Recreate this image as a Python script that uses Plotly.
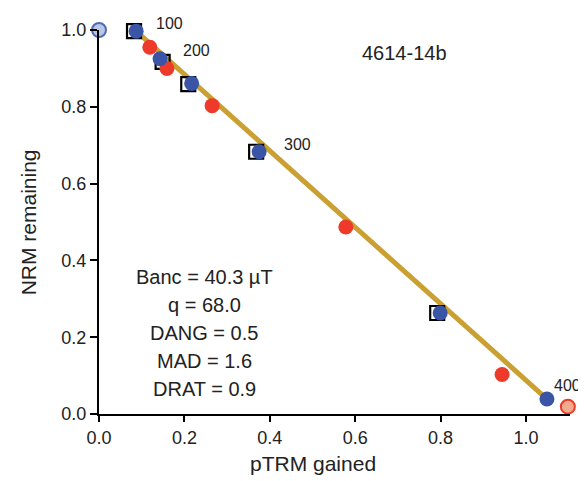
import plotly.graph_objects as go

# --- data ---
open_blue_x = [0.0]
open_blue_y = [1.0]
blue_x = [0.087, 0.143, 0.217, 0.375, 0.799, 1.049]
blue_y = [0.997, 0.925, 0.861, 0.683, 0.263, 0.039]
red_x = [0.119, 0.159, 0.265, 0.578, 0.944]
red_y = [0.955, 0.900, 0.803, 0.487, 0.103]
open_red_x = [1.098]
open_red_y = [0.019]
check_x = [0.082, 0.149, 0.209, 0.368, 0.792]
check_y = [0.997, 0.917, 0.859, 0.683, 0.263]
fit_x = [0.087, 1.049]
fit_y = [0.997, 0.039]
step_labels = ["100", "200", "300", "400"]
step_label_x = [0.166, 0.229, 0.466, 1.062]
step_label_y = [1.016, 0.947, 0.703, 0.073]
sample_name = "4614-14b"
stats_lines = ["Banc = 40.3 µT", "q = 68.0", "DANG = 0.5", "MAD = 1.6", "DRAT = 0.9"]
stats_y = [0.357, 0.285, 0.212, 0.139, 0.066]
tick_vals = [0.0, 0.2, 0.4, 0.6, 0.8, 1.0]
tick_text = ["0.0", "0.2", "0.4", "0.6", "0.8", "1.0"]
x_title = "pTRM gained"
y_title = "NRM remaining"

BLUE = "#3A55A6"
RED = "#EE3A2A"
GOLD = "#C9A031"
TXT = "#222222"
FONT = "Liberation Sans, Arial, sans-serif"

fig = go.Figure()
fig.add_trace(go.Scatter(x=fit_x, y=fit_y, mode="lines",
                         line=dict(color=GOLD, width=5), cliponaxis=False, hoverinfo="skip"))
fig.add_trace(go.Scatter(x=check_x, y=check_y, mode="markers", cliponaxis=False,
                         marker=dict(symbol="square-open", size=14, color="black",
                                     line=dict(width=2.2, color="black"))))
fig.add_trace(go.Scatter(x=red_x, y=red_y, mode="markers", cliponaxis=False,
                         marker=dict(symbol="circle", size=15, color=RED,
                                     line=dict(width=0))))
fig.add_trace(go.Scatter(x=blue_x, y=blue_y, mode="markers", cliponaxis=False,
                         marker=dict(symbol="circle", size=15, color=BLUE,
                                     line=dict(width=0))))
fig.add_trace(go.Scatter(x=open_blue_x, y=open_blue_y, mode="markers", cliponaxis=False,
                         marker=dict(symbol="circle", size=14, color="#B7C8E6",
                                     line=dict(width=2, color="#4F6BB5"))))
fig.add_trace(go.Scatter(x=open_red_x, y=open_red_y, mode="markers", cliponaxis=False,
                         marker=dict(symbol="circle", size=14, color="#F2A98C",
                                     line=dict(width=2, color=RED))))

annotations = []
for i, (t, x, y) in enumerate(zip(step_labels, step_label_x, step_label_y)):
    annotations.append(dict(x=x, y=y, xref="x", yref="paper", text=t, showarrow=False,
                            xanchor="left" if i == 3 else "center", yanchor="middle",
                            font=dict(size=16, color=TXT, family=FONT)))
annotations.append(dict(x=0.715, y=0.94, text=sample_name, showarrow=False,
                        xanchor="center", yanchor="middle",
                        font=dict(size=20, color=TXT, family=FONT)))
for t, y in zip(stats_lines, stats_y):
    annotations.append(dict(x=0.247, y=y, text=t, showarrow=False,
                            xanchor="center", yanchor="middle",
                            font=dict(size=20, color=TXT, family=FONT)))
annotations.append(dict(x=0.5, xref="x", y=-0.13, yref="paper", text=x_title,
                        showarrow=False, xanchor="center", yanchor="middle",
                        font=dict(size=21, color=TXT, family=FONT)))
annotations.append(dict(x=-0.15, xref="paper", y=0.5, yref="paper", text=y_title,
                        showarrow=False, xanchor="center", yanchor="middle", textangle=-90,
                        font=dict(size=21, color=TXT, family=FONT)))

# page body has an 8px margin, so the figure is 8px smaller than the window
fig.update_layout(
    width=578, height=473,
    margin=dict(l=91, r=16, t=12, b=67),
    paper_bgcolor="white", plot_bgcolor="white",
    showlegend=False,
    annotations=annotations,
    font=dict(family=FONT, color=TXT),
)
fig.update_xaxes(range=[0, 1.103], tickvals=tick_vals, ticktext=tick_text,
                 showline=True, linewidth=2, linecolor="black", ticks="outside",
                 ticklen=6, tickwidth=2, tickcolor="black", showgrid=False, zeroline=False,
                 tickfont=dict(size=18, family=FONT, color=TXT))
fig.update_yaxes(range=[0, 1.0], tickvals=tick_vals, ticktext=tick_text,
                 showline=True, linewidth=2, linecolor="black", ticks="outside",
                 ticklen=7, tickwidth=2, tickcolor="black", showgrid=False, zeroline=False,
                 tickfont=dict(size=18, family=FONT, color=TXT))

fig.write_html("out.html")
